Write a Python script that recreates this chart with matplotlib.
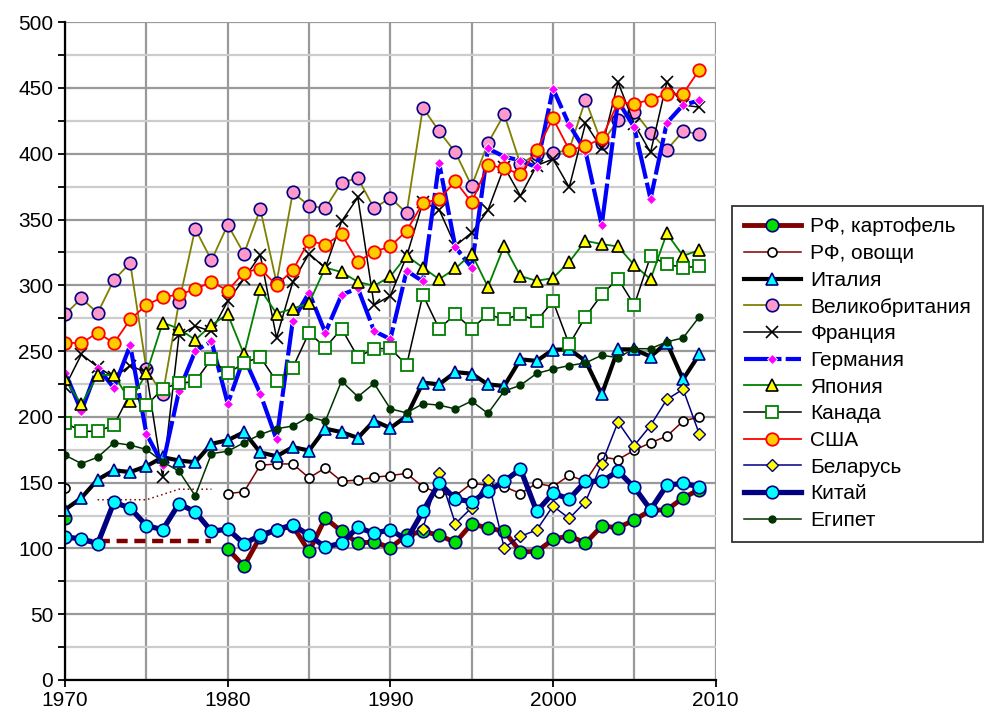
import numpy as np
import matplotlib
matplotlib.use("Agg")
import matplotlib.pyplot as plt
from matplotlib.ticker import MultipleLocator

plt.rcParams['font.family'] = ['Liberation Sans', 'DejaVu Sans']

years = list(range(1970, 2010))
nan = np.nan

# РФ: 1970 value, then 1980-2009
rf_potato = [123] + [nan] * 9 + [99.5, 86.5, 109, 114, 117, 97.7, 123, 113, 104, 105,
                                 100.5, 110, 113, 110, 104.5, 118.7, 115.5, 113, 97.5, 97.5,
                                 106.8, 109.7, 104, 117, 115.8, 121.5, 129, 129.3, 138.4, 144.7]
rf_veg = [146] + [nan] * 9 + [141.7, 143, 163.2, 164.2, 164.2, 153.6, 161.2, 151, 152, 154,
                              155.4, 157, 146.8, 142, 140, 149.5, 148, 147, 141.7, 149.5,
                              147, 155.5, 151, 169.6, 167.5, 174.6, 180.3, 185.3, 196.7, 200]
# early period levels (dashed / dotted)
potato_early_years = list(range(1971, 1980))
potato_early = [106] * 9
veg_early_years = list(range(1972, 1980))
veg_early = [137, 137, 137, 137, 141, 145, 145, 145]

italy = [129.5, 138.4, 152.3, 159.4, 158, 162.5, 169.3, 166.8, 165.5, 179.5,
         182.2, 188.4, 173, 170, 177, 174.4, 191, 188.4, 184, 197,
         191.5, 200.5, 226, 224.7, 234, 232.8, 224.7, 223.4, 243.7, 242.5,
         251, 251.3, 242.5, 217, 251.3, 251.3, 245.8, 256.4, 228.5, 247.5]
uk = [278, 290, 279, 304, 317, 236, 217, 287, 343, 319,
      346, 324, 358, 302, 370.6, 360.5, 358.5, 378, 381.5, 358.5,
      366.5, 355, 435, 417, 401, 375.5, 408, 430, 392, 400,
      400.5, 403, 441, 408, 425.5, 432, 416, 403, 417, 415]
france = [223, 247.5, 238, 230, 239, 233.6, 154, 262, 269, 265,
          288, 305, 323, 260, 302.6, 324, 313, 348.6, 366.8, 285,
          292, 322, 363, 357.5, 330, 340, 357, 390, 368, 391,
          396, 374.5, 423, 404, 454.4, 422.7, 401, 454.4, 437, 435.4]
germany = [233.6, 204.4, 237.4, 222, 254.4, 187, 163.7, 219.6, 250, 257.5,
           210, 245, 217.6, 182.8, 273, 294.5, 264, 292.7, 297.8, 265.3,
           259, 311, 303, 393, 328.8, 313.5, 404, 397.8, 394.8, 389.7,
           449.5, 422, 402, 345.8, 440, 420, 365.6, 423.4, 437, 440.5]
japan = [228.5, 209.4, 231.8, 231.8, 212, 233, 271.7, 267, 258.5, 269.8,
         278, 247.5, 297, 278.5, 282.3, 286.4, 313.5, 310, 302.6, 299.6,
         306.7, 322.4, 313.5, 304.6, 312.8, 324, 298.8, 330, 307, 303.4,
         305.5, 317.8, 333.8, 331.3, 329.5, 315.3, 304.6, 339.4, 322.4, 326.7]
canada = [195.5, 189, 189, 193.7, 217.8, 208.7, 221.4, 225.4, 227, 244,
          233, 241, 245.5, 227, 237.4, 264, 252.6, 267, 245.5, 251.8,
          252, 239.4, 292.7, 267, 278, 267, 278, 274, 278, 273,
          288, 255, 276, 293, 305, 285, 322, 316, 313.5, 314.3]
usa = [256.4, 256, 264, 256, 274, 285, 291, 293, 297, 302.6,
       296, 309.7, 312.7, 300, 311.5, 333.8, 330.8, 339, 318, 325.5,
       329.5, 341.5, 362.5, 365.6, 379, 363, 391.5, 389, 384.3, 403,
       426.8, 403, 405.7, 411.8, 439, 438, 441, 445.5, 445.5, 463.8]
belarus = [nan] * 22 + [115, 157, 118.8, 131, 152.3, 100.5, 109.2, 114,
                        132.2, 122.8, 135.5, 164.5, 196, 178.2, 193.4, 213.2, 221, 187]
china = [108.7, 107.2, 103.6, 135, 130.7, 117.3, 114.2, 134, 127.7, 113,
         114.7, 103.6, 110, 114.2, 118, 110, 101, 104, 116, 111.5,
         114.2, 106.6, 128.1, 149.8, 137.6, 135.5, 143.4, 151, 160.3, 128.1,
         141.9, 137.6, 151, 151, 158.7, 146.4, 129.5, 148, 149.5, 146.8]
egypt = [170.8, 164.5, 169.3, 180.3, 178.5, 175.2, 165.8, 158.7, 140, 172,
         173.9, 180.3, 186.6, 191, 193, 200, 196.7, 227.2, 215.3, 225.4,
         206.1, 203, 210, 208.9, 206, 212, 202.6, 219.6, 224, 233,
         236.3, 239, 241, 246.8, 245, 251.8, 251.8, 257, 260, 276]

fig = plt.figure(figsize=(9.87, 7.15), dpi=100)
ax = fig.add_axes([0.066, 0.049, 0.659, 0.920])

ax.plot(potato_early_years, potato_early, color='#800000', lw=3.2, ls=(0, (2.5, 1.5)), zorder=2)
ax.plot(veg_early_years, veg_early, color='#800000', lw=1.1, ls=(0, (1, 2)), zorder=2)

ax.plot(years, rf_potato, color='#800000', lw=3.5, marker='o', ms=9,
        mfc='#00e000', mec='#000080', mew=1.2, label='РФ, картофель')
ax.plot(years, rf_veg, color='#800000', lw=1.1, marker='o', ms=6.5,
        mfc='white', mec='black', mew=1.2, label='РФ, овощи')
ax.plot(years, italy, color='black', lw=3.0, marker='^', ms=9,
        mfc='#00ffff', mec='#000080', mew=1.2, label='Италия')
ax.plot(years, uk, color='#808000', lw=1.3, marker='o', ms=9,
        mfc='#ff99cc', mec='#000080', mew=1.2, label='Великобритания')
ax.plot(years, france, color='black', lw=1.1, marker='x', ms=8.5,
        mec='black', mew=1.2, label='Франция')
ax.plot(years, germany, color='#0000ff', lw=3.0, ls=(0, (9, 1)), marker='D', ms=5.5,
        mfc='#ff00ff', mec='white', mew=0.6, label='Германия')
ax.plot(years, japan, color='#008000', lw=1.3, marker='^', ms=9,
        mfc='#ffff00', mec='black', mew=1.2, label='Япония')
ax.plot(years, canada, color='black', lw=1.1, marker='s', ms=8.5,
        mfc='white', mec='#008000', mew=1.3, label='Канада')
ax.plot(years, usa, color='#ff0000', lw=1.3, marker='o', ms=9,
        mfc='#ffcc00', mec='#ff0000', mew=1.3, label='США')
ax.plot(years, belarus, color='#000080', lw=1.1, marker='D', ms=6.5,
        mfc='#ffff00', mec='#000080', mew=1.0, label='Беларусь')
ax.plot(years, china, color='#000080', lw=3.8, marker='o', ms=9,
        mfc='#00ffff', mec='#000080', mew=1.2, label='Китай')
ax.plot(years, egypt, color='#003300', lw=1.1, marker='o', ms=5,
        mfc='#003300', mec='#003300', label='Египет')

ax.set_xlim(1970, 2010)
ax.set_ylim(0, 500)
ax.xaxis.set_major_locator(MultipleLocator(10))
ax.xaxis.set_minor_locator(MultipleLocator(5))
ax.yaxis.set_major_locator(MultipleLocator(50))
ax.yaxis.set_minor_locator(MultipleLocator(25))
ax.grid(which='major', axis='y', color='#999999', lw=1.6)
ax.grid(which='minor', axis='y', color='#cccccc', lw=1.6)
ax.grid(which='both', axis='x', color='#999999', lw=1.6)
ax.set_axisbelow(True)
for s in ['top', 'right']:
    ax.spines[s].set_visible(False)
ax.spines['left'].set_linewidth(1.6)
ax.spines['bottom'].set_linewidth(1.6)
ax.tick_params(which='both', direction='out', labelsize=15, length=5, width=1.3)
ax.tick_params(axis='x', which='minor', length=0)
ax.tick_params(axis='x', pad=3)

leg = fig.legend(loc='upper left', bbox_to_anchor=(0.742, 0.712), fontsize=15,
                 frameon=True, fancybox=False, edgecolor='black', numpoints=1,
                 handlelength=2.75, labelspacing=0.37, borderpad=0.55, handletextpad=0.45,
                 borderaxespad=0)
leg.get_frame().set_linewidth(1.3)

fig.savefig('out.png', dpi=100)
